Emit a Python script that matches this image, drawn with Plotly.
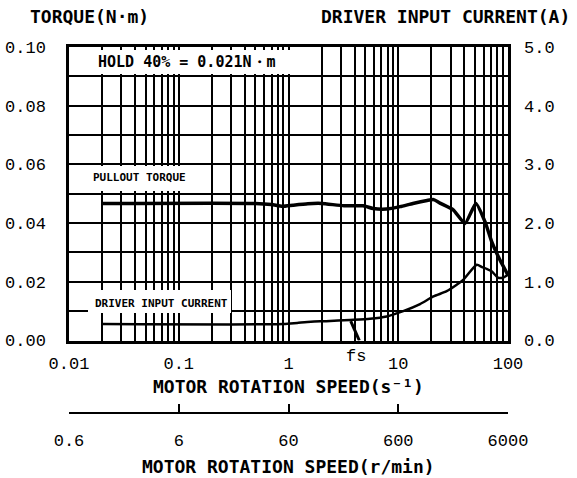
import plotly.graph_objects as go
import math

# ---- data ----
torque_speed = [0.02, 0.5, 0.7, 0.88, 1.1, 1.5, 2.0, 3.2, 4.8, 5.9, 7.8, 10.4, 13.6, 18.3, 21, 24, 31.7, 40.6, 51, 61.7, 71, 84.5, 100]
torque_nm = [0.0467, 0.0467, 0.0463, 0.0457, 0.0461, 0.0466, 0.0467, 0.0459, 0.0459, 0.0450, 0.0448, 0.0456, 0.0467, 0.0477, 0.0480, 0.0468, 0.0445, 0.0399, 0.0467, 0.0405, 0.0337, 0.0274, 0.0223]

current_speed = [0.02, 0.9, 1.2, 1.6, 2.2, 3.63, 5.53, 7.85, 11.1, 15.8, 20.9, 27.6, 34.1, 39, 51.9, 58, 64, 71, 81, 90, 100]
current_a = [0.28, 0.28, 0.30, 0.32, 0.33, 0.35, 0.37, 0.41, 0.50, 0.62, 0.75, 0.84, 0.95, 1.03, 1.29, 1.25, 1.22, 1.18, 1.07, 1.07, 1.12]

fs_speed = [3.69, 4.42]
fs_torque = [0.0066, 0.0]

speed_decades = [0.01, 0.1, 1, 10, 100]
speed_labels = ["0.01", "0.1", "1", "10", "100"]
torque_ticks = [round(0.01 * i, 2) for i in range(11)]
torque_labels = ["0.00", "", "0.02", "", "0.04", "", "0.06", "", "0.08", "", "0.10"]
current_ticks = [0, 1, 2, 3, 4, 5]
current_labels = ["0.0", "1.0", "2.0", "3.0", "4.0", "5.0"]
rpm_ticks = [0.6, 6, 60, 600, 6000]
rpm_labels = ["0.6", "6", "60", "600", "6000"]

# grid positions 1..9 x decades
grid_vals = []
for d in speed_decades[:-1]:
    for m in range(1, 10):
        grid_vals.append(round(d * m, 4))
grid_vals.append(100)
grid_text = [speed_labels[speed_decades.index(v)] if v in speed_decades else "" for v in grid_vals]

W, H = 577, 478
L, R, T, B = 69, 69, 47, 65
paper_h = H - T - B
plot_bottom_px = 340.5
ydom0 = (H - B - plot_bottom_px) / paper_h

def px(xp):
    return (xp - L) / (W - L - R)

def py(yp):
    return (H - B - yp) / paper_h

MONO = "Liberation Mono"
BOLD = "DejaVu Sans Mono"

fig = go.Figure()
fig.add_trace(go.Scatter(x=torque_speed, y=torque_nm, mode="lines",
                         line=dict(color="black", width=3.5, shape="spline", smoothing=0.5),
                         xaxis="x", yaxis="y", showlegend=False, hoverinfo="skip"))
fig.add_trace(go.Scatter(x=current_speed, y=current_a, mode="lines",
                         line=dict(color="black", width=2.5, shape="spline", smoothing=0.6),
                         xaxis="x", yaxis="y2", showlegend=False, hoverinfo="skip"))
fig.add_trace(go.Scatter(x=fs_speed, y=fs_torque, mode="lines",
                         line=dict(color="black", width=3),
                         xaxis="x", yaxis="y", showlegend=False, hoverinfo="skip"))
fig.add_trace(go.Scatter(x=rpm_ticks, y=[0] * len(rpm_ticks), mode="markers",
                         marker=dict(opacity=0), xaxis="x2", yaxis="y",
                         showlegend=False, hoverinfo="skip"))

fig.update_layout(
    width=W, height=H,
    margin=dict(l=L, r=R, t=T, b=B),
    paper_bgcolor="white", plot_bgcolor="white",
    xaxis=dict(type="log", range=[-2, 2], tickmode="array", tickvals=grid_vals, ticktext=grid_text,
               showgrid=True, gridcolor="black", gridwidth=1.5, showline=True, mirror=True,
               linecolor="black", linewidth=2.5, ticks="", zeroline=False, anchor="y",
               tickfont=dict(family=MONO, size=17, color="black"), ticklabelstandoff=5,
               automargin=False),
    xaxis2=dict(type="log", range=[math.log10(0.6), math.log10(6000)], overlaying="x",
                anchor="free", position=0, side="bottom", tickmode="array",
                tickvals=rpm_ticks, ticktext=rpm_labels, showgrid=False, showline=True,
                linecolor="black", linewidth=1.5, ticks="inside", ticklen=8, tickwidth=1.5,
                tickcolor="black", zeroline=False,
                tickfont=dict(family=MONO, size=17, color="black"), ticklabelstandoff=12,
                automargin=False),
    yaxis=dict(range=[0, 0.1], domain=[ydom0, 1], tickmode="array", tickvals=torque_ticks,
               ticktext=torque_labels, showgrid=True, gridcolor="black", gridwidth=1.5,
               showline=True, mirror=True, linecolor="black", linewidth=2.5, ticks="",
               zeroline=False, tickfont=dict(family=MONO, size=17, color="black"),
               ticklabelstandoff=17, automargin=False),
    yaxis2=dict(range=[0, 5], overlaying="y", side="right", anchor="x", tickmode="array",
                tickvals=current_ticks, ticktext=current_labels, showgrid=False,
                showline=False, ticks="", zeroline=False,
                tickfont=dict(family=MONO, size=17, color="black"), ticklabelstandoff=15,
                automargin=False),
)

# white label boxes over grid
boxes = [
    (70.5, 310, 50, 74),
    (70.5, 195, 166, 191),
    (88, 231, 290, 313),
]
for x0, x1, y0, y1 in boxes:
    fig.add_shape(type="rect", xref="paper", yref="paper", x0=px(x0), x1=px(x1),
                  y0=py(y1), y1=py(y0), fillcolor="white", line=dict(width=0), layer="above")

def ann(text, x, y, size, family, xanchor="center", bold=True):
    fig.add_annotation(text=("<b>%s</b>" % text) if bold else text, xref="paper", yref="paper",
                       x=px(x), y=py(y), xanchor=xanchor, yanchor="middle", showarrow=False,
                       font=dict(family=family, size=size, color="black"))

ann("HOLD 40% = 0.021N・m", 187, 62, 15, BOLD)
ann("PULLOUT TORQUE", 139, 178, 11, BOLD)
ann("DRIVER INPUT CURRENT", 161, 303, 11, BOLD)
ann("TORQUE(N·m)", 28, 17, 18, BOLD, xanchor="left")
ann("DRIVER INPUT CURRENT(A)", 572, 17, 18, BOLD, xanchor="right")
ann("MOTOR ROTATION SPEED(s⁻¹)", 288, 386, 18, BOLD)
ann("MOTOR ROTATION SPEED(r/min)", 288, 466, 18, BOLD)
ann("fs", 356, 356, 17, MONO, bold=False)

fig.write_html("out.html", config={"displayModeBar": False},
               post_script="document.body.style.margin='0';document.body.style.padding='0';")
